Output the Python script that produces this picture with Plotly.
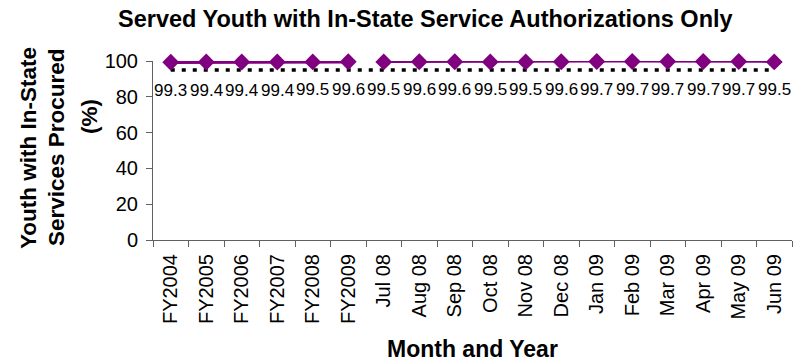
import plotly.graph_objects as go

categories = ["FY2004", "FY2005", "FY2006", "FY2007", "FY2008", "FY2009",
              "Jul 08", "Aug 08", "Sep 08", "Oct 08", "Nov 08", "Dec 08",
              "Jan 09", "Feb 09", "Mar 09", "Apr 09", "May 09", "Jun 09"]
fiscal_years = categories[:6]
months = categories[6:]
fy_values = [99.3, 99.4, 99.4, 99.4, 99.5, 99.6]
month_values = [99.5, 99.6, 99.6, 99.5, 99.5, 99.6, 99.7, 99.7, 99.7, 99.7, 99.7, 99.5]
target = [95] * len(categories)

FONT = "Arial, Liberation Sans, sans-serif"
PURPLE = "#800080"

fig = go.Figure()
fig.add_trace(go.Scatter(x=categories, y=target, mode="lines",
                         line=dict(color="black", width=3.5, dash="4px,7px"),
                         hoverinfo="skip", showlegend=False, cliponaxis=False))
fig.add_trace(go.Scatter(x=fiscal_years, y=fy_values, mode="lines+markers",
                         line=dict(color=PURPLE, width=3.5),
                         marker=dict(symbol="diamond", size=13, color=PURPLE),
                         showlegend=False, cliponaxis=False))
fig.add_trace(go.Scatter(x=months, y=month_values, mode="lines+markers",
                         line=dict(color=PURPLE, width=2),
                         marker=dict(symbol="diamond", size=13, color=PURPLE),
                         showlegend=False, cliponaxis=False))

all_values = fy_values + month_values
annotations = []
for c, v in zip(categories, all_values):
    annotations.append(dict(x=c, y=v, xref="x", yref="y", text=f"{v:.1f}",
                            showarrow=False, yshift=-28,
                            font=dict(family=FONT, size=17, color="black")))

fig.update_layout(
    width=794, height=362,
    margin=dict(l=153, r=2, t=61, b=122),
    paper_bgcolor="white", plot_bgcolor="white",
    showlegend=False,
    font=dict(family=FONT, color="black"),
    xaxis=dict(type="category", categoryorder="array", categoryarray=categories,
               range=[-0.5, len(categories) - 0.5],
               showline=True, linecolor="#606060", linewidth=1,
               ticks="outside", tickson="boundaries", ticklen=6, tickcolor="#606060",
               tickangle=-90, tickfont=dict(family=FONT, size=20, color="black"),
               ticklabelstandoff=5,
               showgrid=False, zeroline=False),
    yaxis=dict(range=[0, 100], tickvals=[0, 20, 40, 60, 80, 100],
               showline=True, linecolor="#606060", linewidth=1,
               ticks="outside", ticklen=6, tickcolor="#606060",
               tickfont=dict(family=FONT, size=20, color="black"),
               ticklabelstandoff=4,
               showgrid=False, zeroline=False),
)

W, H = 794, 362
l, r, t, b = 153, 2, 61, 122
pw, ph = W - l - r, H - t - b
def px(xp):
    return (xp - l) / pw
def py(yp):
    return (H - b - yp) / ph

title_font = dict(family=FONT, size=22.5, color="black")
annotations += [
    dict(text="<b>Served Youth with In-State Service Authorizations Only</b>",
         x=px(425), y=py(19), xref="paper", yref="paper", showarrow=False,
         xanchor="center", yanchor="middle",
         font=dict(family=FONT, size=23.5, color="black")),
    dict(text="<b>Youth with In-State</b>",
         x=px(28), y=py(148), xref="paper", yref="paper", showarrow=False,
         xanchor="center", yanchor="middle", textangle=-90, font=title_font),
    dict(text="<b>Services Procured</b>",
         x=px(56), y=py(147), xref="paper", yref="paper", showarrow=False,
         xanchor="center", yanchor="middle", textangle=-90, font=title_font),
    dict(text="<b>(%)</b>",
         x=px(89), y=py(117), xref="paper", yref="paper", showarrow=False,
         xanchor="center", yanchor="middle", textangle=-90, font=title_font),
    dict(text="<b>Month and Year</b>",
         x=px(472), y=py(349), xref="paper", yref="paper", showarrow=False,
         xanchor="center", yanchor="middle",
         font=dict(family=FONT, size=23, color="black")),
]
fig.update_layout(annotations=annotations)

fig.write_html("out.html")
